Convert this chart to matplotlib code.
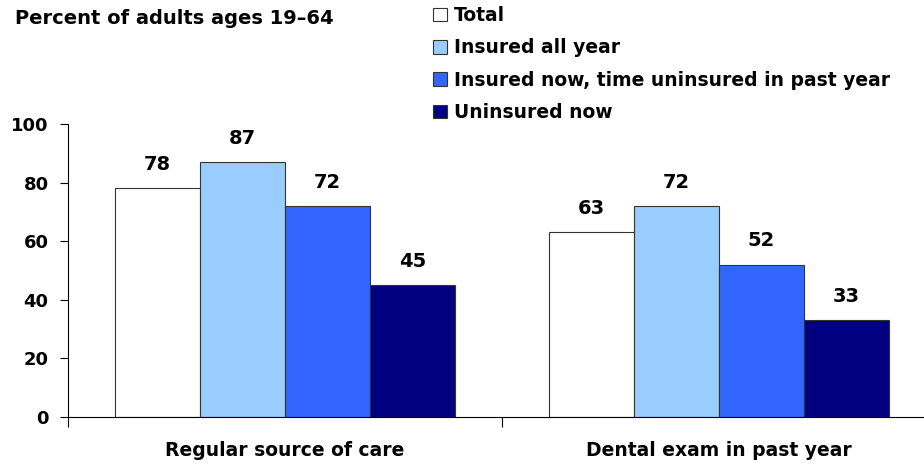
import numpy as np
import matplotlib
matplotlib.use("Agg")
import matplotlib.pyplot as plt

categories = ["Regular source of care", "Dental exam in past year"]
series_names = ["Total", "Insured all year",
                "Insured now, time uninsured in past year", "Uninsured now"]
total = [78, 63]
insured_all_year = [87, 72]
insured_now_gap = [72, 52]
uninsured_now = [45, 33]
colors = ["#FFFFFF", "#99CCFF", "#3366FF", "#000080"]

plt.rcParams['font.family'] = ['DejaVu Sans']
plt.rcParams['font.weight'] = 'bold'

W, H = 924, 468
fig = plt.figure(figsize=(W / 100, H / 100), dpi=100)
# axes: x from 68 to 935 px, y from 417 (0) to 124 (100)
ax = fig.add_axes([68 / W, 1 - 417 / H, 867.4 / W, 293 / H])

x = np.arange(len(categories))
width = 0.196
all_series = [total, insured_all_year, insured_now_gap, uninsured_now]
for i, (vals, name, col) in enumerate(zip(all_series, series_names, colors)):
    pos = x + (i - 1.5) * width
    bars = ax.bar(pos, vals, width, color=col, edgecolor="#333333",
                  linewidth=0.8, label=name)
    for b, v in zip(bars, vals):
        ax.text(b.get_x() + b.get_width() / 2, v + 6.2, str(v),
                ha="center", va="baseline", fontsize=14, fontweight="bold")

ax.set_xlim(-0.5, 1.5)
ax.set_ylim(0, 100)
ax.set_yticks([0, 20, 40, 60, 80, 100])
ax.tick_params(axis="y", labelsize=13, length=6, width=0.8, pad=8)
ax.set_xticks([-0.5, 0.5, 1.5])
ax.set_xticklabels([])
ax.tick_params(axis="x", length=7, width=0.8)
for xi, c in zip(x, categories):
    ax.text(xi, -0.113, c, transform=ax.get_xaxis_transform(),
            ha="center", va="center", fontsize=13.5, fontweight="bold")

ax.spines["top"].set_visible(False)
ax.spines["right"].set_visible(False)

fig.text(15 / W, 1 - 19 / H, "Percent of adults ages 19\u201364",
         ha="left", va="center", fontsize=14, fontweight="bold")

fig.legend(loc="upper left", bbox_to_anchor=(433 / W, 1 - 6 / H),
           frameon=False, fontsize=13.5, handlelength=0.75, handleheight=0.75,
           handletextpad=0.35, labelspacing=0.71, borderpad=0,
           borderaxespad=0)

fig.savefig("out.png", dpi=100)
